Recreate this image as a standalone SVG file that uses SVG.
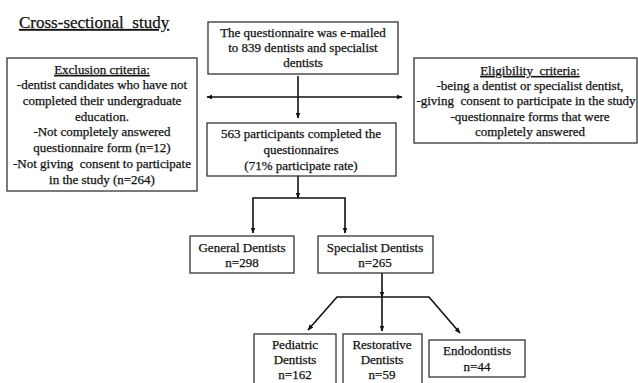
<svg xmlns="http://www.w3.org/2000/svg" width="638" height="383" viewBox="0 0 638 383" font-family="'Liberation Serif','Times New Roman',serif">
<defs>
<style>
text{font-family:"Liberation Serif","Times New Roman",serif;font-size:13px;fill:#111;stroke:#111;stroke-width:0.25;text-anchor:middle}
.box{fill:#fff;stroke:#333;stroke-width:1.3}
.ln{fill:none;stroke:#111;stroke-width:1.6}
.title{font-size:17px;text-anchor:start;text-decoration:underline}
.u{text-decoration:underline}
</style>
<marker id="ah" viewBox="0 0 10 10" refX="9" refY="5" markerWidth="6" markerHeight="6" orient="auto-start-reverse" markerUnits="userSpaceOnUse">
<path d="M0,1 L10,5 L0,9 z" fill="#111"/>
</marker>
</defs>
<rect width="638" height="383" fill="#fff"/>
<text class="title" x="19" y="28" xml:space="preserve">Cross-sectional  study</text>

<g id="connectors">
<line class="ln" x1="298" y1="76" x2="298" y2="118" marker-end="url(#ah)"/>
<line class="ln" x1="207" y1="97" x2="402" y2="97" marker-start="url(#ah)" marker-end="url(#ah)"/>
<line class="ln" x1="298" y1="176" x2="298" y2="198" marker-end="url(#ah)"/>
<polyline class="ln" points="253,233 253,198 345,198 345,233" marker-start="url(#ah)" marker-end="url(#ah)"/>
<line class="ln" x1="382" y1="273" x2="382" y2="297" marker-end="url(#ah)"/>
<polyline class="ln" points="308,330 337,297 429,297 460,333" marker-start="url(#ah)" marker-end="url(#ah)"/>
<line class="ln" x1="382" y1="297" x2="382" y2="331" marker-end="url(#ah)"/>
</g>

<g id="n-questionnaire">
<rect class="box" x="208" y="22" width="190" height="52"/>
<text x="303" y="37">The questionnaire was e-mailed</text>
<text x="303" y="52">to 839 dentists and specialist</text>
<text x="303" y="67">dentists</text>
</g>

<g id="n-exclusion">
<rect class="box" x="7" y="58" width="190" height="133"/>
<text class="u" x="102" y="74">Exclusion criteria:</text>
<text x="102" y="89">-dentist candidates who have not</text>
<text x="102" y="105">completed their undergraduate</text>
<text x="102" y="121">education.</text>
<text x="102" y="136">-Not completely answered</text>
<text x="102" y="152">questionnaire form (n=12)</text>
<text x="102" y="168" xml:space="preserve">-Not giving  consent to participate</text>
<text x="102" y="184">in the study (n=264)</text>
</g>

<g id="n-eligibility">
<rect class="box" x="414" y="58" width="223" height="85"/>
<text class="u" x="530" y="75" xml:space="preserve">Eligibility  criteria:</text>
<text x="530" y="90">-being a dentist or specialist dentist,</text>
<text x="526" y="105" xml:space="preserve">-giving  consent to participate in the study</text>
<text x="530" y="121">-questionnaire forms that were</text>
<text x="530" y="136">completely answered</text>
</g>

<g id="n-participants">
<rect class="box" x="207" y="123" width="189" height="53"/>
<text x="301" y="138">563 participants completed the</text>
<text x="301" y="154">questionnaires</text>
<text x="301" y="170">(71% participate rate)</text>
</g>

<g id="n-general">
<rect class="box" x="190" y="236" width="104" height="37"/>
<text x="242" y="252">General Dentists</text>
<text x="242" y="267">n=298</text>
</g>

<g id="n-specialist">
<rect class="box" x="318" y="236" width="115" height="37"/>
<text x="375" y="252">Specialist Dentists</text>
<text x="375" y="267">n=265</text>
</g>

<g id="n-pediatric">
<rect class="box" x="254" y="334" width="82" height="60"/>
<text x="295" y="349">Pediatric</text>
<text x="295" y="364">Dentists</text>
<text x="295" y="379">n=162</text>
</g>

<g id="n-restorative">
<rect class="box" x="343" y="334" width="79" height="60"/>
<text x="382" y="349">Restorative</text>
<text x="382" y="364">Dentists</text>
<text x="382" y="379">n=59</text>
</g>

<g id="n-endodontists">
<rect class="box" x="429" y="340" width="96" height="37"/>
<text x="477" y="355">Endodontists</text>
<text x="477" y="371">n=44</text>
</g>
</svg>
